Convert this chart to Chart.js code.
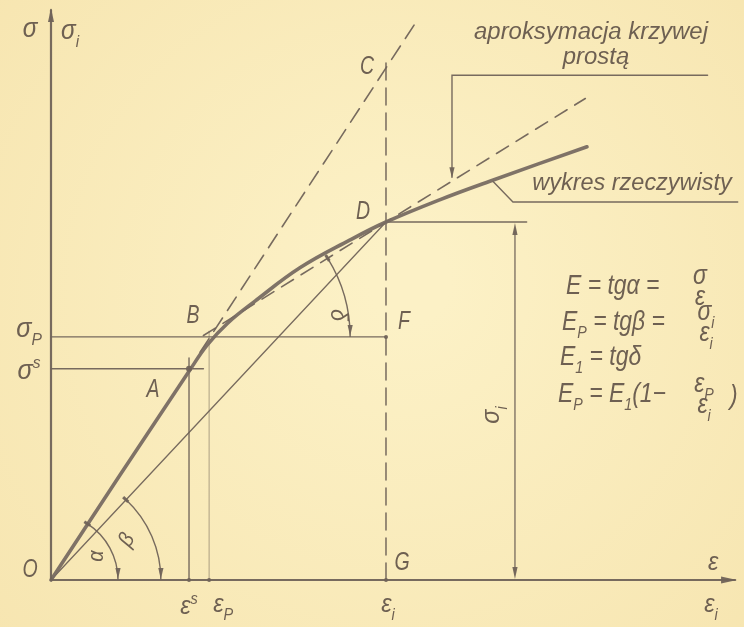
<!DOCTYPE html>
<html lang="pl">
<head>
<meta charset="UTF-8">
<title>Wykres rzeczywisty i jego aproksymacja</title>
<script src="https://cdn.jsdelivr.net/npm/chart.js"></script>
<style>
  html, body { margin: 0; padding: 0; background: #f8e9bb; }
  .wrap { width: 744px; height: 627px; position: relative; }
</style>
</head>
<body>
<div class="wrap"><canvas id="wykres"></canvas></div>
<script>
// punkty charakterystyczne: odksztalcenie (eps) i naprezenie (sig)
const epsS = 4.12, epsP = 4.72, epsI = 10;
const sigS = 5.9, sigP = 6.79, sigI = 10, sigC = 14.3;

// wykres rzeczywisty
const curveEps = [0, 2.06, 4.15, 4.66, 5.28, 6.09, 7.43, 8.93, 10, 11.6, 13.1, 16.0];
const curveSig = [0, 2.93, 5.87, 6.56, 7.18, 7.79, 8.72, 9.5, 10, 10.62, 11.14, 12.1];

// styczna do krzywej w poczatku ukladu (E = tg alfa)
const tangentEps = [4.45, 10.9];
const tangentSig = [6.36, 15.59];

// aproksymacja krzywej prosta (E1 = tg delta)
const approxEps = [4.55, 10, 15.95];
const approxSig = [6.83, 10, 13.45];

// linie odnoszace do opisow
const leaderApproxEps = [11.97, 11.97, 19.6];
const leaderApproxSig = [11.25, 14.1, 14.1];
const leaderCurveEps = [13.19, 13.79, 20.5];
const leaderCurveSig = [11.14, 10.56, 10.56];
const dimEps = 13.85, dimEndEps = 14.2;

// dlugosci osi
const axisEpsMax = 20.42, axisSigMax = 15.92;

const ink = 'rgba(112, 99, 88, 0.95)';
const textInk = 'rgb(110, 96, 82)';
const FONT = '"Liberation Sans", "DejaVu Sans", sans-serif';

function pts(xs, ys) { return xs.map((x, i) => ({ x: x, y: ys[i] })); }
function line(xs, ys, width, dash, color) {
  return {
    data: pts(xs, ys), showLine: true, borderColor: color || ink,
    borderWidth: width, borderDash: dash || [], pointRadius: 0,
    fill: false, tension: 0, borderCapStyle: 'round'
  };
}

const datasets = [
  line([0, axisEpsMax], [0, 0], 2.2),
  line([0, 0], [0, axisSigMax], 2.2),
  Object.assign(line(curveEps, curveSig, 3.6, [], 'rgba(120, 107, 98, 0.95)'), { tension: 0.4 }),
  line(tangentEps, tangentSig, 1.6, [16, 9]),
  line(approxEps, approxSig, 1.6, [14, 9]),
  line([0, epsI], [0, sigI], 1.3),
  line([epsI, epsI], [0, 14.5], 1.5, [17, 8]),
  line([0, 4.55], [sigS, sigS], 1.4),
  line([0, epsI], [sigP, sigP], 1.4),
  line([epsS, epsS], [0, 6.2], 1.4),
  line([epsP, epsP], [0, 6.95], 1.0, [], 'rgba(110, 96, 84, 0.55)'),
  line([epsI, dimEndEps], [sigI, sigI], 1.3),
  line([dimEps, dimEps], [0.2, sigI - 0.2], 1.3),
  line(leaderApproxEps, leaderApproxSig, 1.4),
  line(leaderCurveEps, leaderCurveSig, 1.4)
];

function arrowHead(ctx, x, y, ang, len, half) {
  const c = Math.cos(ang), s = Math.sin(ang);
  ctx.beginPath();
  ctx.moveTo(x, y);
  ctx.lineTo(x - len * c + half * s, y - len * s - half * c);
  ctx.lineTo(x - len * c - half * s, y - len * s + half * c);
  ctx.closePath();
  ctx.fill();
}

function txt(ctx, s, x, y, size, opt) {
  opt = opt || {};
  ctx.save();
  ctx.translate(x, y);
  if (opt.rot) ctx.rotate(opt.rot);
  ctx.scale(opt.sq || 0.82, 1);
  ctx.font = 'italic ' + size + 'px ' + FONT;
  ctx.textAlign = opt.align || 'center';
  ctx.textBaseline = opt.base || 'middle';
  ctx.fillStyle = textInk;
  ctx.fillText(s, 0, 0);
  ctx.restore();
}

// tekst z indeksami: runs = [[tekst, 'sub'|'sup'|'']]
function rich(ctx, runs, x, y, size, align, sq) {
  sq = sq || 0.82;
  const parts = runs.map(r => {
    const fs = r[1] ? size * 0.62 : size;
    ctx.font = 'italic ' + fs + 'px ' + FONT;
    return { t: r[0], k: r[1], fs: fs, w: ctx.measureText(r[0]).width * sq };
  });
  const total = parts.reduce((a, p) => a + p.w, 0);
  let cx = align === 'center' ? x - total / 2 : x;
  parts.forEach(p => {
    const dy = p.k === 'sub' ? size * 0.3 : p.k === 'sup' ? -size * 0.4 : 0;
    txt(ctx, p.t, cx, y + dy, p.fs, { align: 'left', base: 'alphabetic', sq: sq });
    cx += p.w;
  });
  return total;
}

const paper = {
  id: 'paper',
  beforeDraw(chart) {
    const ctx = chart.ctx, w = chart.width, h = chart.height;
    const g = ctx.createRadialGradient(w * 0.55, h * 0.45, 40, w * 0.5, h * 0.5, w * 0.75);
    g.addColorStop(0, 'rgb(252, 241, 198)');
    g.addColorStop(1, 'rgb(246, 228, 174)');
    ctx.save();
    ctx.fillStyle = g;
    ctx.fillRect(0, 0, w, h);
    ctx.restore();
  }
};

const sketch = {
  id: 'sketch',
  afterDatasetsDraw(chart) {
    const ctx = chart.ctx;
    const xs = chart.scales.x, ys = chart.scales.y;
    const P = (e, s) => [xs.getPixelForValue(e), ys.getPixelForValue(s)];
    ctx.save();
    ctx.fillStyle = ink;
    ctx.strokeStyle = ink;

    // groty osi
    const [x0, y0] = P(0, 0);
    const [, yTop] = P(0, axisSigMax);
    const [xEnd] = P(axisEpsMax, 0);
    arrowHead(ctx, x0, yTop - 2, -Math.PI / 2, 14, 3);
    arrowHead(ctx, xEnd + 2, y0, 0, 16, 3.5);

    // wymiar sigma_i
    const [xd, yd] = P(dimEps, sigI);
    arrowHead(ctx, xd, yd + 1, -Math.PI / 2, 12, 2.6);
    arrowHead(ctx, xd, y0 - 1, Math.PI / 2, 12, 2.6);

    // grot linii odnoszacej aproksymacji
    const [xl, yl] = P(leaderApproxEps[0], leaderApproxSig[0]);
    arrowHead(ctx, xl, yl + 1, Math.PI / 2, 11, 2.6);

    // luki katow alfa, beta, delta
    const arcs = [
      { c: [0, 0], to: [epsS, sigS], r: 2.0 },
      { c: [0, 0], to: [epsI, sigI], r: 3.28 },
      { c: [4.48, sigP], to: [approxEps[2], approxSig[2]], r: 4.45 }
    ];
    arcs.forEach(a => {
      const [cx, cy] = P(a.c[0], a.c[1]);
      const [tx, ty] = P(a.to[0], a.to[1]);
      const r = xs.getPixelForValue(a.c[0] + a.r) - cx;
      const ang = Math.atan2(ty - cy, tx - cx);
      ctx.lineWidth = 1.4;
      ctx.beginPath();
      ctx.arc(cx, cy, r, ang, 0);
      ctx.stroke();
      arrowHead(ctx, cx + r, cy - 1, Math.PI / 2, 11, 2.6);
      // kreska na poczatku luku
      const sx = cx + r * Math.cos(ang), sy = cy + r * Math.sin(ang);
      ctx.lineWidth = 3;
      ctx.beginPath();
      ctx.moveTo(sx - 3 * Math.sin(ang), sy + 3 * Math.cos(ang));
      ctx.lineTo(sx + 4 * Math.sin(ang), sy - 4 * Math.cos(ang));
      ctx.stroke();
    });

    // punkty przeciec
    [[epsI, sigP], [epsI, 0], [epsS, 0], [epsP, 0]].forEach(p => {
      const [px, py] = P(p[0], p[1]);
      ctx.beginPath(); ctx.arc(px, py, 2, 0, Math.PI * 2); ctx.fill();
    });
    const [ax, ay] = P(epsS, sigS);
    ctx.beginPath(); ctx.arc(ax, ay, 3, 0, Math.PI * 2); ctx.fill();

    // oznaczenia punktow
    const letters = [
      ['O', 0, 0, -21, -10], ['A', epsS, sigS, -36, 21], ['B', epsP, sigP, -16, -21],
      ['C', epsI, sigC, -19, -1], ['D', epsI, sigI, -23, -10], ['F', epsI, sigP, 18, -15],
      ['G', epsI, 0, 16, -17]
    ];
    letters.forEach(l => {
      const [px, py] = P(l[1], l[2]);
      txt(ctx, l[0], px + l[3], py + l[4], 25, { sq: 0.78 });
    });

    // opisy osi
    rich(ctx, [['σ', '']], x0 - 21, yTop + 27, 27, 'center', 0.9);
    rich(ctx, [['σ', ''], ['i', 'sub']], x0 + 19, yTop + 29, 27, 'center', 0.9);
    const [, ysp] = P(0, sigP);
    rich(ctx, [['σ', ''], ['P', 'sub']], x0 - 22, ysp, 28, 'center', 0.9);
    const [, yss] = P(0, sigS);
    rich(ctx, [['σ', ''], ['s', 'sup']], x0 - 22, yss + 10, 28, 'center', 0.9);
    const [xes] = P(epsS, 0);
    rich(ctx, [['ε', ''], ['s', 'sup']], xes, y0 + 34, 26, 'center', 0.9);
    const [xep] = P(epsP, 0);
    rich(ctx, [['ε', ''], ['P', 'sub']], xep + 14, y0 + 32, 26, 'center', 0.9);
    const [xei] = P(epsI, 0);
    rich(ctx, [['ε', ''], ['i', 'sub']], xei + 2, y0 + 32, 26, 'center', 0.9);
    rich(ctx, [['ε', '']], xEnd - 22, y0 - 10, 26, 'center', 0.9);
    rich(ctx, [['ε', ''], ['i', 'sub']], xEnd - 24, y0 + 32, 26, 'center', 0.9);

    // oznaczenia katow i wymiaru
    txt(ctx, 'α', x0 + 46, y0 - 24, 22, { rot: -Math.PI / 2, sq: 0.9 });
    txt(ctx, 'β', x0 + 76, y0 - 40, 22, { rot: -Math.PI / 3, sq: 0.9 });
    const [xF, yF] = P(epsI, sigP);
    txt(ctx, 'δ', xF - 48, yF - 22, 24, { rot: Math.PI / 2, sq: 0.9 });
    ctx.save();
    ctx.translate(xd - 24, (yd + y0) / 2 + 14);
    ctx.rotate(-Math.PI / 2);
    rich(ctx, [['σ', ''], ['i', 'sub']], 0, 8, 26, 'center', 0.9);
    ctx.restore();

    // opisy krzywych
    txt(ctx, 'aproksymacja krzywej', 591, 33, 23, { sq: 1.04 });
    txt(ctx, 'prostą', 596, 58, 23, { sq: 1.04 });
    txt(ctx, 'wykres rzeczywisty', 632, 184, 23, { sq: 1.02 });

    // wzory
    const fs = 27;
    const frac = (num, den, cx, yb) => {
      rich(ctx, num, cx, yb - 12, fs, 'center', 0.85);
      rich(ctx, den, cx, yb + 9, fs, 'center', 0.85);
    };
    rich(ctx, [['E = tgα =', '']], 566, 294, fs, 'left', 0.85);
    frac([['σ', '']], [['ε', '']], 700, 296);
    rich(ctx, [['E', ''], ['P', 'sub'], [' = tgβ =', '']], 562, 330, fs, 'left', 0.85);
    frac([['σ', ''], ['i', 'sub']], [['ε', ''], ['i', 'sub']], 706, 332);
    rich(ctx, [['E', ''], ['1', 'sub'], [' = tgδ', '']], 560, 365, fs, 'left', 0.85);
    rich(ctx, [['E', ''], ['P', 'sub'], [' = E', ''], ['1', 'sub'], ['(1−', '']], 558, 402, fs, 'left', 0.85);
    frac([['ε', ''], ['P', 'sub']], [['ε', ''], ['i', 'sub']], 704, 404);
    rich(ctx, [[')', '']], 730, 404, fs, 'left', 0.85);

    ctx.restore();
  }
};

new Chart(document.getElementById('wykres'), {
  type: 'scatter',
  data: { datasets: datasets },
  options: {
    responsive: true,
    maintainAspectRatio: false,
    animation: false,
    layout: { padding: 0 },
    plugins: { legend: { display: false }, tooltip: { enabled: false } },
    scales: {
      x: { type: 'linear', display: false, min: -1.5224, max: 20.687 },
      y: { type: 'linear', display: false, min: -1.3128, max: 16.201 }
    }
  },
  plugins: [paper, sketch]
});
</script>
</body>
</html>
